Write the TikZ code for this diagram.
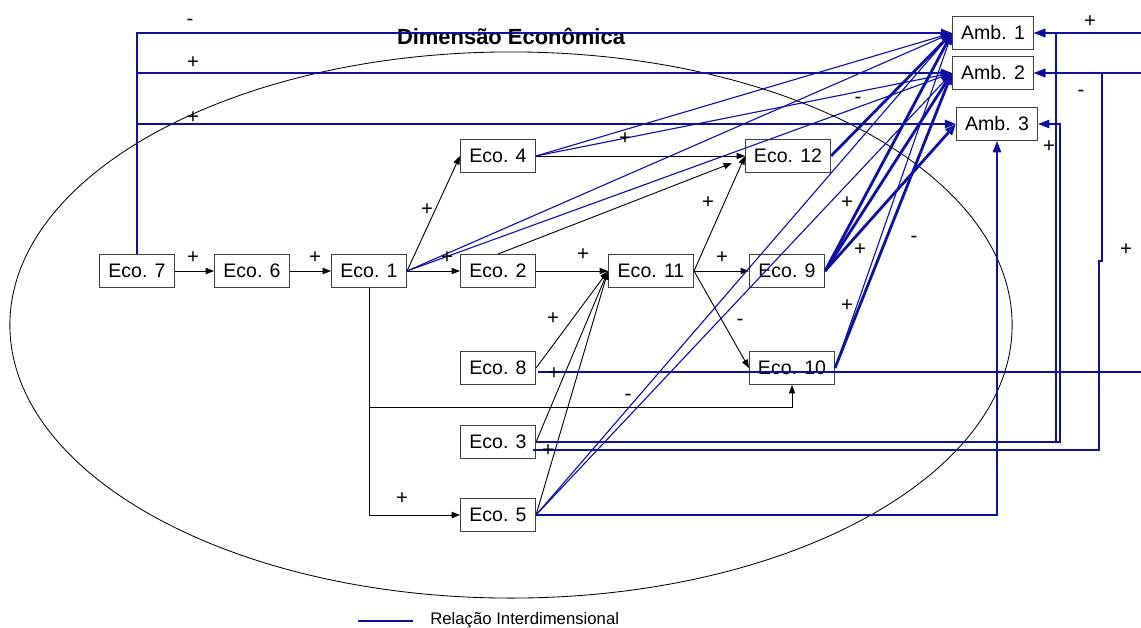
\documentclass[tikz,border=0pt]{standalone}
\usepackage{fontspec}
\setmainfont{Liberation Sans}
\usetikzlibrary{arrows.meta}
\definecolor{interdim}{RGB}{16,16,160}

\begin{document}
\begin{tikzpicture}[
  x=0.025cm, y=-0.025cm,
  font=\fontsize{13.9}{16}\selectfont,
  var/.style={rectangle, draw=black!75, line width=0.7pt, minimum width=1.875cm,
              minimum height=0.825cm, inner sep=1pt},
  widevar/.style={var, minimum width=2.125cm},
  amb/.style={var, minimum width=2.025cm},
  arr/.style={-{Triangle[length=6pt,width=4.5pt]}, line width=0.65pt},
  rel/.style={-{Triangle[length=8pt,width=6pt]}, draw=interdim, line width=0.8pt},
  relm/.style={rel, line width=1.4pt},
  relk/.style={rel, line width=2pt},
  sgn/.style={inner sep=0pt, font=\fontsize{14.5}{16}\selectfont},
]
\useasboundingbox (0,0) rectangle (1141,627);

% economic dimension
\draw[line width=0.6pt] (511,325) ellipse [x radius=12.525cm, y radius=6.825cm];
\node[font=\fontsize{15.6}{18}\selectfont\bfseries] (title) at (511,36) {Dimensão Econômica};

% environmental variables
\node[amb] (a1) at (993,33) {Amb. 1};
\node[amb] (a2) at (993,73) {Amb. 2};
\node[amb] (a3) at (997,124) {Amb. 3};

% economic variables
\node[var] (e7) at (137,271) {Eco. 7};
\node[var] (e6) at (252,271) {Eco. 6};
\node[var] (e1) at (369,271) {Eco. 1};
\node[var] (e4) at (498,156) {Eco. 4};
\node[var] (e2) at (498,271) {Eco. 2};
\node[var] (e8) at (498,368) {Eco. 8};
\node[var] (e3) at (498,442) {Eco. 3};
\node[var] (e5) at (498,515) {Eco. 5};
\node[widevar] (e11) at (651,271) {Eco. 11};
\node[widevar] (e12) at (788,156) {Eco. 12};
\node[var] (e9) at (787,271) {Eco. 9};
\node[widevar] (e10) at (792,368) {Eco. 10};

% links inside the dimension
\draw[arr] (e7.east) -- (e6.west);
\draw[arr] (e6.east) -- (e1.west);
\draw[arr] (e1.east) -- (e4.west);
\draw[arr] (e1.east) -- (e2.west);
\draw[arr] (e1.south) -- ++(0,119) -| (e10.south);
\draw[arr] (e1.south) |- (e5.west);
\draw[arr] (e4.east) -- (e12.west);
\draw[arr] (e2.north) -- ([shift={(-13,7)}]e12.west);
\draw[arr] (e2.east) -- (e11.west);
\draw[arr] (e8.east) -- (e11.west);
\draw[arr] (e3.east) -- (e11.west);
\draw[arr] (e5.east) -- (e11.west);
\draw[arr] (e11.east) -- (e12.west);
\draw[arr] (e11.east) -- (e9.west);
\draw[arr] (e11.east) -- (e10.west);

% interdimensional links
\draw[relm] (e7.north) |- (a1.west);
\draw[relm] (e7.north) |- (a2.west);
\draw[relm] (e7.north) |- (a3.west);
\draw[rel] (e1.east) -- (a1.west);
\draw[rel] (e1.east) -- (a2.west);
\draw[rel] (e4.east) -- (a1.west);
\draw[rel] (e4.east) -- (a2.west);
\draw[relk] (e12.east) -- (a1.west);
\draw[relk] (e9.east) -- (a1.west);
\draw[relk] (e9.east) -- (a2.west);
\draw[relk] (e9.east) -- (a3.west);
\draw[rel] (e10.east) -- (a1.west);
\draw[relk] (e10.east) -- (a2.west);
\draw[rel] (e5.east) -- (a1.west);
\draw[rel] (e5.east) -- (a2.west);
\draw[rel] (e5.east) -| (a3.south);
\draw[rel] (e3.east) -- ++(520,0) |- (a1.east);
\draw[rel] (e3.east) -- ++(524,0) |- (a3.east);
\draw[rel] ([shift={(-3,8)}]e3.east) -- ++(566,0) -- ++(0,-189) -- ++(3,0) |- (a2.east);
\coordinate (edgeA) at (1141,372);
\coordinate (edgeB) at (1141,33);
\coordinate (edgeC) at (1141,73);
\draw[draw=interdim, line width=0.8pt] ([shift={(2,4)}]e8.east) -- (edgeA);
\draw[rel] (edgeB) -- (a1.east);
\draw[rel] (edgeC) -- (a2.east);

% signs
\foreach \x/\y/\s in {190/22/-, 193/63/+, 193/118/+, 193/258/+, 315/258/+, 427/210/+,
                      447/258/+, 583/255/+, 625/139/+, 708/203/+, 722/258/+, 740/322/-,
                      553/319/+, 554/374/+, 628/397/-, 548/451/+, 402/499/+, 847/203/+,
                      860/250/+, 914/239/-, 847/306/+, 858/100/-, 1090/22/+, 1081/93/-,
                      1049/147/+, 1126/250/+}
  \node[sgn] at (\x,\y) {\s};

% legend
\coordinate (lg1) at (358,621);
\coordinate (lg2) at (413,621);
\draw[draw=interdim, line width=2pt] (lg1) -- (lg2);
\node[anchor=west, inner sep=0pt, font=\fontsize{11.9}{14}\selectfont] (lgtxt) at (430,620) {Relação Interdimensional};
\end{tikzpicture}
\end{document}
